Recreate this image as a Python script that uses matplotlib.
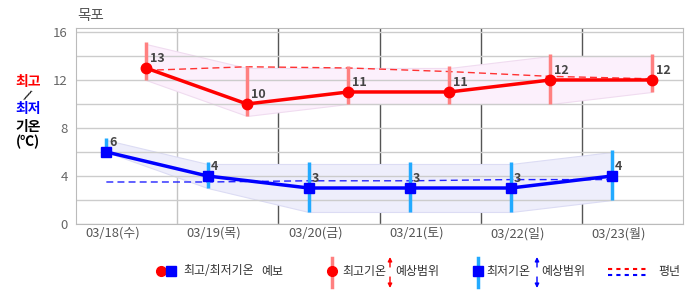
import matplotlib
matplotlib.use('Agg')
import matplotlib.pyplot as plt

plt.rcParams['font.family'] = ['Noto Sans CJK KR', 'DejaVu Sans']

# forecast data (Mokpo)
dates = ['03/18(수)', '03/19(목)', '03/20(금)', '03/21(토)', '03/22(일)', '03/23(월)']
t_max = [13, 10, 11, 11, 12, 12]
t_min = [6, 4, 3, 3, 3, 4]
max_lo = [12, 9, 10, 10, 10, 11]
max_hi = [15, 13, 13, 13, 14, 14]
min_lo = [6, 3, 1, 1, 1, 2]
min_hi = [7, 5, 5, 5, 5, 6]
avg_max = [12.8, 13.1, 13.0, 12.7, 12.3, 12.1]
avg_min = [3.5, 3.5, 3.6, 3.6, 3.7, 3.7]

W, H = 686, 295
fig = plt.figure(figsize=(W / 100, H / 100), dpi=100)
ax = fig.add_axes([76 / W, (H - 224) / H, 607 / W, 196 / H])

days = range(len(dates))
x_max = [d + 0.69 for d in days]   # afternoon
x_min = [d + 0.30 for d in days]   # morning

ax.set_xlim(0, 6)
ax.set_ylim(0, 16.33)

# grid
ax.set_yticks([0, 4, 8, 12, 16])
ax.set_yticks([2, 6, 10, 14], minor=True)
ax.grid(axis='y', which='both', color='#cccccc', lw=1, zorder=0)
ax.axvline(1, color='#c4c4c4', lw=1, zorder=0)
for d in range(2, 6):
    ax.axvline(d, color='#555555', lw=1, zorder=0)
for s in ax.spines.values():
    s.set_color('#bbbbbb')

ax.set_xticks([d + 0.366 for d in days])
ax.set_xticklabels(dates)
ax.tick_params(axis='both', which='both', length=0, labelsize=9.3, colors='#555555')
ax.tick_params(axis='x', pad=2)
ax.tick_params(axis='y', pad=6, labelsize=9.5, colors='#666666')

# expected ranges
ax.fill_between(x_max, max_lo, max_hi, facecolor='#fcf0fc', edgecolor='#f0dcf0', lw=0.8, zorder=1)
ax.fill_between(x_min, min_lo, min_hi, facecolor='#eeeefb', edgecolor='#dcdcf4', lw=0.8, zorder=1)

# normals
ax.plot(x_max, avg_max, color='#ff3333', lw=1, ls=(0, (5, 3)), zorder=2)
ax.plot(x_min, avg_min, color='#2222ff', lw=1, ls=(0, (5, 3)), zorder=2)

ax.vlines(x_max, max_lo, [v + 0.15 for v in max_hi], color='#ff8080', lw=2.5, zorder=3)
ax.vlines(x_min, min_lo, [v + 0.15 for v in min_hi], color='#22aaff', lw=2.5, zorder=3)

# forecasts
ax.plot(x_max, t_max, color='red', lw=2.5, marker='o', ms=7.5, zorder=4)
ax.plot(x_min, t_min, color='blue', lw=2.5, marker='s', ms=7, zorder=4)

for x, v in zip(x_max, t_max):
    ax.annotate(str(v), (x, v), xytext=(4, 9), textcoords='offset pixels',
                fontsize=9, fontweight='bold', color='#444444', va='center', zorder=5)
for x, v in zip(x_min, t_min):
    ax.annotate(str(v), (x, v), xytext=(3, 9), textcoords='offset pixels',
                fontsize=9, fontweight='bold', color='#444444', va='center', zorder=5)

# overlay in pixel coords for title, side label and legend
ov = fig.add_axes([0, 0, 1, 1])
ov.set_xlim(0, W)
ov.set_ylim(H, 0)
ov.axis('off')

ov.text(77, 16, '목포', fontsize=10.5, color='#555555', va='center')

lkw = dict(fontsize=10, fontweight='bold', ha='center', va='center')
ov.text(28, 82, '최고', color='red', **lkw)
ov.text(27, 95, '/', color='black', fontsize=10, rotation=-25, family='DejaVu Sans',
        ha='center', va='center')
ov.text(28, 109, '최저', color='blue', **lkw)
ov.text(28, 127, '기온', color='black', **lkw)
ov.text(28, 142, '(℃)', color='black', **lkw)

ly = 271
tkw = dict(fontsize=8.6, color='#333333', va='center')
ov.plot(161, ly, 'o', color='red', ms=7)
ov.plot(171, ly, 's', color='blue', ms=6.5)
ov.text(183, ly, '최고/최저기온', **tkw)
ov.text(261, ly, '예보', **tkw)

ov.plot([332, 332], [258, 287], color='#ff8080', lw=2.5)
ov.plot(332, ly, 'o', color='red', ms=7)
ov.text(342, ly, '최고기온', **tkw)
ov.text(395, ly, '예상범위', **tkw)

ov.plot([478, 478], [258, 287], color='#22aaff', lw=2.5)
ov.plot(478, ly, 's', color='blue', ms=6.5)
ov.text(486, ly, '최저기온', **tkw)
ov.text(541, ly, '예상범위', **tkw)

for ax_x, c in [(390, 'red'), (537, 'blue')]:
    ap = dict(arrowstyle='-|>', color=c, lw=1, mutation_scale=6, shrinkA=0, shrinkB=0)
    ov.annotate('', xy=(ax_x, 257), xytext=(ax_x, 267), arrowprops=ap)
    ov.annotate('', xy=(ax_x, 288), xytext=(ax_x, 277), arrowprops=ap)

ov.plot([608, 647], [269, 269], color='red', lw=1.5, ls=(0, (2, 2)))
ov.plot([608, 647], [275, 275], color='blue', lw=1.5, ls=(0, (2, 2)))
ov.text(658, ly, '평년', **tkw)

fig.savefig('out.png', dpi=100)
